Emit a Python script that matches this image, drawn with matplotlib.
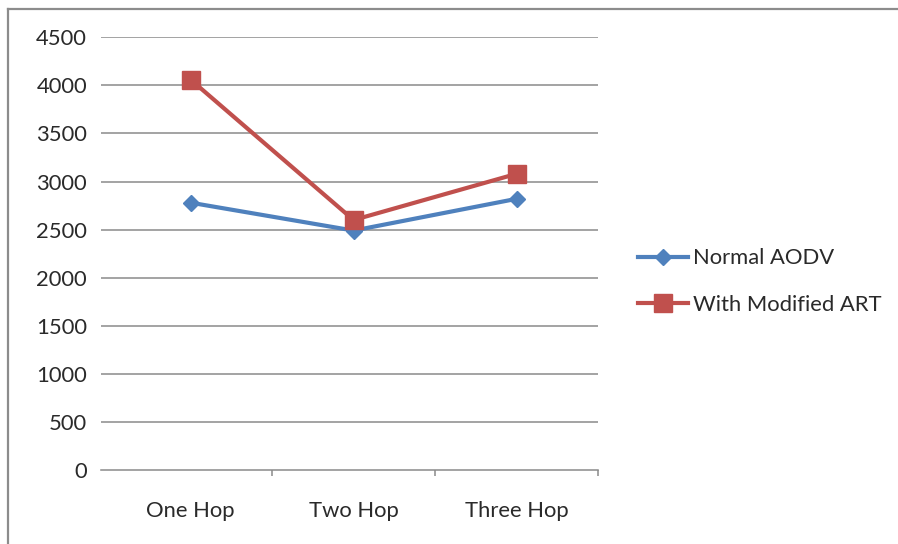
import matplotlib
matplotlib.use("Agg")
import matplotlib.pyplot as plt
from matplotlib.lines import Line2D
import numpy as np

categories = ["One Hop", "Two Hop", "Three Hop"]
normal_aodv = [2780, 2490, 2820]
modified_art = [4060, 2600, 3080]
y_ticks = [0, 500, 1000, 1500, 2000, 2500, 3000, 3500, 4000, 4500]

plt.rcParams["font.family"] = ["Lato", "DejaVu Sans"]

W, H = 898, 544
FS = 15.8
fig = plt.figure(figsize=(W / 100, H / 100), dpi=100)
fig.patch.set_facecolor("white")

# outer frame (top and left edges visible)
fig.add_artist(Line2D([8 / W, 8 / W], [0, 1 - 9 / H], transform=fig.transFigure,
                      color="#8c8c8c", lw=1.6))
fig.add_artist(Line2D([8 / W, 1], [1 - 9 / H, 1 - 9 / H], transform=fig.transFigure,
                      color="#8c8c8c", lw=1.6))

left, right = 101 / W, 598 / W
bottom, top = (H - 470) / H, (H - 37.3) / H
ax = fig.add_axes([left, bottom, right - left, top - bottom])

x = np.arange(len(categories))
blue = "#4F81BD"
red = "#C0504D"
ax.plot(x, normal_aodv, color=blue, lw=3.0, marker="D", markersize=8.5,
        label="Normal AODV", zorder=3)
ax.plot(x, modified_art, color=red, lw=3.0, marker="s", markersize=13,
        label="With Modified ART", zorder=4)

ax.set_ylim(0, 4500)
ax.set_xlim(-0.55, 2.5)
ax.set_yticks(y_ticks)
ax.set_yticklabels([str(v) for v in y_ticks])
ax.set_xticks(x)
ax.set_xticklabels(categories)
ax.set_xticks([0.5, 1.5, 2.5], minor=True)

for v in y_ticks[1:]:
    ax.axhline(v, color="#8a8a8a", lw=1.1, zorder=1)

for s in ["top", "right", "left"]:
    ax.spines[s].set_visible(False)
ax.spines["bottom"].set_color("#8a8a8a")
ax.spines["bottom"].set_linewidth(1.1)

ax.tick_params(axis="y", length=0, pad=10, labelsize=FS, labelcolor="#2a2a2a")
ax.tick_params(axis="x", which="major", length=0, pad=22, labelsize=FS,
               labelcolor="#2a2a2a")
ax.tick_params(axis="x", which="minor", length=4, width=1.1, color="#8a8a8a",
               direction="out")

leg = fig.legend(loc="center left", bbox_to_anchor=(638 / W, 1 - 281.5 / H),
                 frameon=False, fontsize=FS, handlelength=2.3,
                 handletextpad=0.2, labelspacing=1.2, borderpad=0,
                 borderaxespad=0)
for t in leg.get_texts():
    t.set_color("#2a2a2a")

fig.savefig("out.png", dpi=100, facecolor="white")
